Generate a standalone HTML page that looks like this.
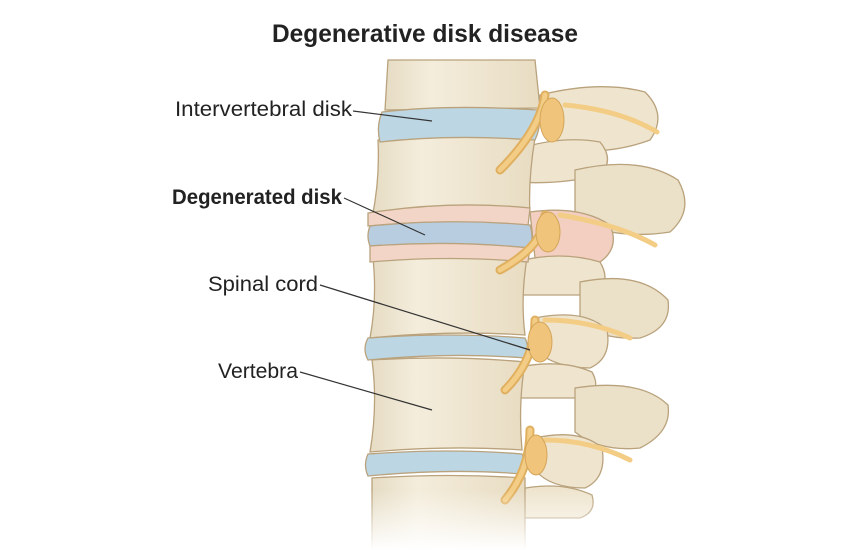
<!DOCTYPE html>
<html><head><meta charset="utf-8"><style>
html,body{margin:0;padding:0;background:#fff;}
svg{display:block}
text{font-family:"Liberation Sans",sans-serif;fill:#222}
</style></head><body>
<svg width="850" height="550" viewBox="0 0 850 550">
<defs>
<linearGradient id="fade" x1="0" y1="0" x2="0" y2="1">
<stop offset="0" stop-color="#fff" stop-opacity="0"/><stop offset="1" stop-color="#fff" stop-opacity="1"/>
</linearGradient>
<linearGradient id="bone" x1="0" y1="0" x2="1" y2="0">
<stop offset="0" stop-color="#e6dcc4"/><stop offset="0.3" stop-color="#f4eddc"/><stop offset="1" stop-color="#e8dcc2"/>
</linearGradient>
</defs>
<text x="272" y="42" font-size="25" font-weight="bold" textLength="306" lengthAdjust="spacingAndGlyphs">Degenerative disk disease</text>

<g stroke="#b9a27c" stroke-width="1.3">
<!-- posterior elements -->
<path d="M540 95 Q600 80 645 92 Q668 115 650 140 Q610 155 560 150 Q535 130 540 95 Z" fill="#efe5cf"/>
<path d="M515 150 Q560 135 600 142 Q615 160 600 175 Q560 185 515 182 Z" fill="#efe5cf"/>
<path d="M575 170 Q640 155 678 180 Q695 210 670 232 Q620 240 575 222 Z" fill="#ebe0c8"/>
<path d="M530 212 Q580 205 610 225 Q620 248 600 262 L535 258 Z" fill="#f2cfc0"/>
<path d="M515 262 Q560 250 600 262 Q612 282 595 295 L515 295 Z" fill="#efe5cf"/>
<path d="M580 282 Q640 270 668 300 Q672 328 640 338 Q600 340 580 322 Z" fill="#ebe0c8"/>
<path d="M535 318 Q585 308 607 330 Q612 358 590 368 Q555 368 535 350 Z" fill="#efe5cf"/>
<path d="M515 368 Q560 358 592 372 Q602 390 585 398 L515 398 Z" fill="#efe5cf"/>
<path d="M575 388 Q640 378 668 405 Q672 432 640 448 Q600 452 575 432 Z" fill="#ebe0c8"/>
<path d="M535 438 Q580 428 602 448 Q607 478 585 488 Q550 488 535 470 Z" fill="#efe5cf"/>
<path d="M515 490 Q560 480 592 495 Q597 512 580 518 L515 518 Z" fill="#efe5cf"/>
<!-- vertebral bodies -->
<path d="M388 60 L535 60 L540 108 L385 110 Z" fill="url(#bone)"/>
<path d="M378 140 Q450 132 535 138 Q528 180 530 215 Q450 208 372 218 Q380 180 378 140 Z" fill="url(#bone)"/>
<path d="M372 250 Q450 245 528 252 Q520 295 525 335 Q450 330 370 338 Q378 295 372 250 Z" fill="url(#bone)"/>
<path d="M372 360 Q450 355 525 362 Q518 405 522 450 Q450 445 370 452 Q378 405 372 360 Z" fill="url(#bone)"/>
<path d="M372 478 Q450 473 525 478 L525 550 L372 550 Z" fill="url(#bone)"/>
<!-- disks -->
<path d="M382 112 Q450 104 538 110 Q542 125 535 140 Q450 134 380 142 Q376 127 382 112 Z" fill="#bcd6e4"/>
<path d="M368 213 Q450 200 530 208 L528 226 Q450 218 368 226 Z" fill="#f2d5c6"/>
<path d="M370 226 Q450 218 530 225 Q534 237 530 248 Q450 242 370 246 Q366 236 370 226 Z" fill="#b8cde0"/>
<path d="M370 246 Q450 240 530 248 L528 262 Q450 255 370 262 Z" fill="#f2d5c6"/>
<path d="M368 338 Q450 332 525 338 Q530 348 525 358 Q450 352 368 360 Q362 349 368 338 Z" fill="#bcd6e4"/>
<path d="M368 454 Q450 448 522 454 Q527 464 522 474 Q450 468 368 476 Q363 465 368 454 Z" fill="#bcd6e4"/>
</g>
<!-- nerves -->
<g fill="none" stroke="#e0b060" stroke-width="9" stroke-linecap="round">
<path d="M545 95 Q540 130 500 170"/>
<path d="M545 215 Q545 245 500 270"/>
<path d="M535 320 Q535 360 505 390"/>
<path d="M530 430 Q530 470 505 500"/>
</g>
<g fill="none" stroke="#f3cd85" stroke-width="5" stroke-linecap="round">
<path d="M545 95 Q540 130 500 170"/>
<path d="M545 215 Q545 245 500 270"/>
<path d="M535 320 Q535 360 505 390"/>
<path d="M530 430 Q530 470 505 500"/>
<path d="M565 105 Q620 110 657 132"/>
<path d="M560 215 Q620 225 655 245"/>
<path d="M545 320 Q590 320 630 338"/>
<path d="M545 440 Q590 440 630 460"/>
</g>
<g fill="#f0c47a" stroke="#d4a55a"><ellipse cx="552" cy="120" rx="12" ry="22"/><ellipse cx="548" cy="232" rx="12" ry="20"/><ellipse cx="540" cy="342" rx="12" ry="20"/><ellipse cx="536" cy="455" rx="11" ry="20"/></g>
<rect x="150" y="490" width="560" height="60" fill="url(#fade)"/>

<g stroke="#333" stroke-width="1.2">
<line x1="353" y1="111" x2="432" y2="121"/>
<line x1="344" y1="198" x2="425" y2="235"/>
<line x1="320" y1="285" x2="530" y2="350"/>
<line x1="300" y1="372" x2="432" y2="410"/>
</g>
<g font-size="21">
<text x="175" y="116" textLength="177" lengthAdjust="spacingAndGlyphs">Intervertebral disk</text>
<text x="172" y="204" font-weight="bold" textLength="170" lengthAdjust="spacingAndGlyphs">Degenerated disk</text>
<text x="208" y="291" textLength="110" lengthAdjust="spacingAndGlyphs">Spinal cord</text>
<text x="218" y="378" textLength="80" lengthAdjust="spacingAndGlyphs">Vertebra</text>
</g>
</svg>
</body></html>
